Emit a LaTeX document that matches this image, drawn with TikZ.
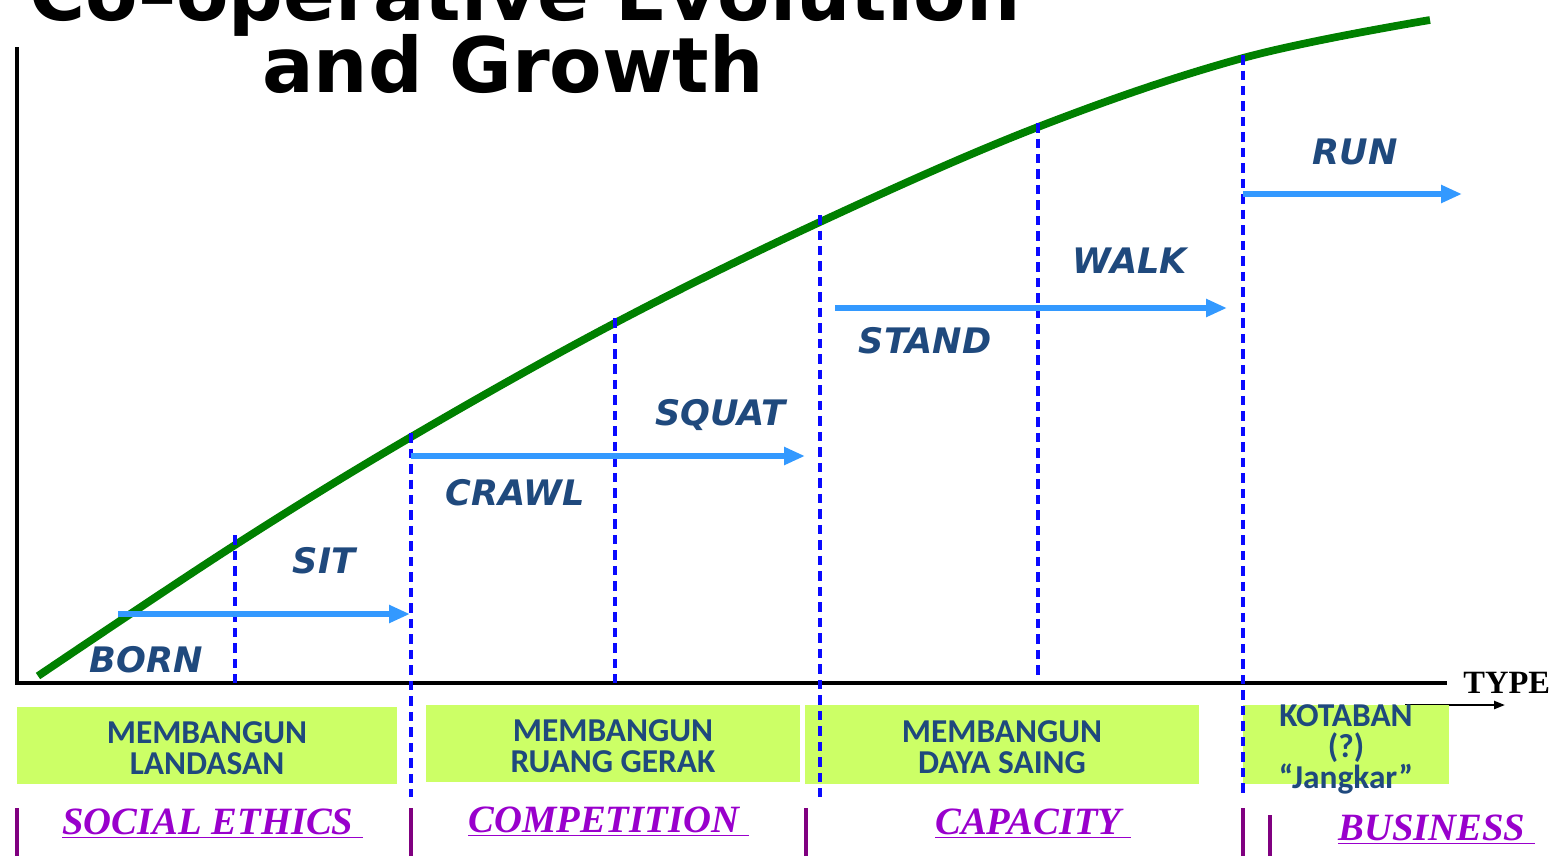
\documentclass[tikz,border=0pt]{standalone}
\usepackage{fontspec}
\setmainfont{Liberation Serif}
\newfontfamily\titlefont{DejaVu Sans}[BoldFont={DejaVu Sans Bold}, BoldItalicFont={DejaVu Sans Bold Oblique}]
\newfontfamily\boxfont{Carlito}
\usetikzlibrary{arrows.meta}
\definecolor{curvegreen}{RGB}{0,128,0}
\definecolor{dashblue}{RGB}{10,10,255}
\definecolor{arrowblue}{RGB}{51,153,255}
\definecolor{labelblue}{RGB}{31,73,125}
\definecolor{boxgreen}{RGB}{204,255,102}
\definecolor{fieldpurple}{RGB}{153,0,204}
\definecolor{dividerpurple}{RGB}{128,0,128}
\begin{document}
\begin{tikzpicture}[x=0.02cm, y=-0.02cm,
        axis/.style={line width=2.2pt, black},
        growth/.style={line width=4.4pt, curvegreen},
        phase/.style={line width=2.2pt, dashblue, dash pattern=on 0.19cm off 0.12cm},
        stride/.style={line width=3pt, arrowblue, -{Triangle[length=0.42cm, width=0.34cm]}},
        stage/.style={font=\titlefont\bfseries\itshape\fontsize{20}{20}\selectfont, text=labelblue, anchor=base},
        goalbox/.style={fill=boxgreen, inner sep=0pt},
        goaltext/.style={font=\boxfont\bfseries\fontsize{19}{17.6}\selectfont, text=labelblue, align=center},
        field/.style={font=\bfseries\itshape\fontsize{22}{22}\selectfont, text=fieldpurple, anchor=base west, inner sep=0pt},
        divider/.style={line width=2pt, dividerpurple}]
    \useasboundingbox (0,0) rectangle (1551,856);

    \node[font=\titlefont\bfseries\fontsize{43.5}{43.5}\selectfont, anchor=base] (title1) at (525,20) {Co–operative Evolution};
    \node[font=\titlefont\bfseries\fontsize{43.5}{43.5}\selectfont, anchor=base] (title2) at (513,92) {and Growth};

    \coordinate (origin) at (17,683);
    \coordinate (ytop) at (17,47);
    \coordinate (xend) at (1447,683);
    \draw[axis] (ytop) -- (origin) -- (xend);
    \node[font=\bfseries\fontsize{18.5}{18.5}\selectfont, anchor=base west, inner sep=0pt] (type) at (1463,693) {TYPE};
    \coordinate (type-a) at (1405,705);
    \coordinate (type-b) at (1505,705);
    \draw[line width=1.3pt, -{Triangle[length=0.22cm, width=0.16cm]}] (type-a) -- (type-b);

    \node[goalbox, minimum width=7.6cm, minimum height=1.54cm] (box-landasan) at (207,745.5) {};
    \node[goalbox, minimum width=7.48cm, minimum height=1.54cm] (box-ruang) at (613,743.5) {};
    \node[goalbox, minimum width=7.88cm, minimum height=1.58cm] (box-saing) at (1002,744.5) {};
    \node[goalbox, minimum width=4.12cm, minimum height=1.58cm] (box-kotaban) at (1346,744.5) {};
    \node[goaltext] (txt-landasan) at (207,748) {MEMBANGUN\\LANDASAN};
    \node[goaltext] (txt-ruang) at (613,746) {MEMBANGUN\\RUANG GERAK};
    \node[goaltext] (txt-saing) at (1002,747) {MEMBANGUN\\DAYA SAING};
    \node[goaltext] (txt-kotaban) at (1346,749) {KOTABAN\\(?)\\“Jangkar”};

    \coordinate (p0) at (38,676);
    \coordinate (p1) at (235,545);
    \coordinate (p2) at (411,437);
    \coordinate (p3) at (615,323);
    \coordinate (p4) at (820,222);
    \coordinate (p5) at (1038,127);
    \coordinate (p6) at (1243,58);
    \coordinate (p7) at (1430,20);
    \draw[growth] plot[smooth, tension=0.6] coordinates {(p0) (p1) (p2) (p3) (p4) (p5) (p6) (p7)};

    \coordinate (sit-top) at (235,535);
    \coordinate (sit-bot) at (235,683);
    \coordinate (crawl-top) at (411,433);
    \coordinate (crawl-bot) at (411,797);
    \coordinate (squat-top) at (615,318);
    \coordinate (squat-bot) at (615,683);
    \coordinate (stand-top) at (820,215);
    \coordinate (stand-bot) at (820,797);
    \coordinate (walk-top) at (1038,123);
    \coordinate (walk-bot) at (1038,676);
    \coordinate (run-top) at (1243,55);
    \coordinate (run-bot) at (1243,797);
    \draw[phase] (sit-top) -- (sit-bot);
    \draw[phase] (crawl-top) -- (crawl-bot);
    \draw[phase] (squat-top) -- (squat-bot);
    \draw[phase] (stand-top) -- (stand-bot);
    \draw[phase] (walk-top) -- (walk-bot);
    \draw[phase] (run-top) -- (run-bot);

    \coordinate (born-a) at (118,614);
    \coordinate (born-b) at (410,614);
    \coordinate (crawl-a) at (411,456);
    \coordinate (crawl-b) at (805,456);
    \coordinate (stand-a) at (835,308);
    \coordinate (stand-b) at (1227,308);
    \coordinate (run-a) at (1243,194);
    \coordinate (run-b) at (1462,194);
    \draw[stride] (born-a) -- (born-b);
    \draw[stride] (crawl-a) -- (crawl-b);
    \draw[stride] (stand-a) -- (stand-b);
    \draw[stride] (run-a) -- (run-b);

    \node[stage] (born) at (146,672) {BORN};
    \node[stage] (sit) at (324,573) {SIT};
    \node[stage] (crawl) at (515,505) {CRAWL};
    \node[stage] (squat) at (720,425) {SQUAT};
    \node[stage] (stand) at (925,353) {STAND};
    \node[stage] (walk) at (1130,273) {WALK};
    \node[stage] (run) at (1355,164) {RUN};

    \coordinate (d1-top) at (17,808);
    \coordinate (d1-bot) at (17,856);
    \coordinate (d2-top) at (411,808);
    \coordinate (d2-bot) at (411,856);
    \coordinate (d3-top) at (806,808);
    \coordinate (d3-bot) at (806,856);
    \coordinate (d4-top) at (1243,808);
    \coordinate (d4-bot) at (1243,856);
    \coordinate (d5-top) at (1270,815);
    \coordinate (d5-bot) at (1270,856);
    \draw[divider] (d1-top) -- (d1-bot);
    \draw[divider] (d2-top) -- (d2-bot);
    \draw[divider] (d3-top) -- (d3-bot);
    \draw[divider] (d4-top) -- (d4-bot);
    \draw[divider] (d5-top) -- (d5-bot);

    \node[field] (ethics) at (62,834) {\underline{SOCIAL ETHICS\ }};
    \node[field] (competition) at (468,832) {\underline{COMPETITION\ }};
    \node[field] (capacity) at (935,834) {\underline{CAPACITY\ }};
    \node[field] (business) at (1338,840) {\underline{BUSINESS\ }};
\end{tikzpicture}
\end{document}
